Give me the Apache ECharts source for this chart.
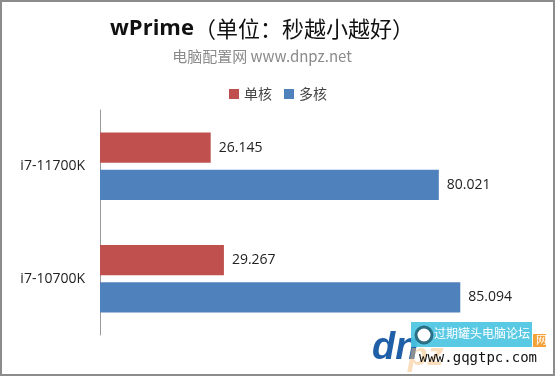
<!DOCTYPE html>
<html>
<head>
<meta charset="utf-8">
<script src="https://cdn.jsdelivr.net/npm/echarts@6/dist/echarts.min.js"></script>
<style>
  html, body { margin: 0; padding: 0; background: #fff; }
  #chart { width: 556px; height: 377px; }
</style>
</head>
<body>
<div id="chart"></div>
<script>
  // wPrime 跑分 (秒，越小越好)
  var cpus = ['i7-11700K', 'i7-10700K'];
  var singleCore = [26.145, 29.267];
  var multiCore = [80.021, 85.094];
  var seriesNames = ['单核', '多核'];

  var font = '"Noto Sans CJK SC", "Open Sans", sans-serif';
  var myChart = echarts.init(document.getElementById('chart'));
  myChart.setOption({
    animation: false,
    color: ['#C0504D', '#4F81BD'],
    title: {
      text: '{a|wPrime}{b|（单位：秒越小越好）}',
      subtext: '电脑配置网 www.dnpz.net',
      left: 257,
      textAlign: 'center',
      top: 13,
      itemGap: 9,
      textStyle: {
        fontSize: 22,
        color: '#111',
        fontFamily: font,
        rich: {
          a: { fontSize: 22, fontWeight: 'bold', color: '#111', fontFamily: '"Open Sans", sans-serif' },
          b: { fontSize: 22, fontWeight: 'normal', color: '#111', fontFamily: font }
        }
      },
      subtextStyle: { fontSize: 15, color: '#8a8a8a', fontFamily: font }
    },
    legend: {
      data: seriesNames,
      top: 82,
      left: 'center',
      itemWidth: 10,
      itemHeight: 10,
      itemGap: 12,
      icon: 'rect',
      textStyle: { fontSize: 14, color: '#444', fontFamily: font }
    },
    grid: {
      left: 100,
      right: 32.6,
      top: 110,
      bottom: 42,
      containLabel: false
    },
    xAxis: {
      type: 'value',
      min: 0,
      max: 100,
      show: false
    },
    yAxis: {
      type: 'category',
      data: cpus,
      inverse: true,
      axisLine: { show: true, lineStyle: { color: '#999', width: 1 } },
      axisTick: { show: false },
      axisLabel: { fontSize: 14, color: '#222', margin: 15, fontFamily: '"Open Sans", sans-serif' }
    },
    series: [{
        name: seriesNames[0],
        type: 'bar',
        data: singleCore,
        barGap: '23%',
        barCategoryGap: '40%',
        label: { show: true, position: 'right', distance: 8, fontSize: 14, color: '#222', fontFamily: '"Open Sans", sans-serif' }
      },
      {
        name: seriesNames[1],
        type: 'bar',
        data: multiCore,
        barGap: '23%',
        barCategoryGap: '40%',
        label: { show: true, position: 'right', distance: 8, fontSize: 14, color: '#222', fontFamily: '"Open Sans", sans-serif' }
      }
    ],
    graphic: [
      // 外框
      { type: 'rect', shape: { x: 1, y: 1, width: 553, height: 374 }, style: { fill: 'none', stroke: '#8c8c8c', lineWidth: 2 }, z: 100 },
      // 右下角水印
      { type: 'text', left: 372, top: 330, style: { text: 'dn', fontSize: 38, fontWeight: 'bold', fontStyle: 'italic', fill: '#1f5fa8', fontFamily: 'Arial, sans-serif' }, z: 90 },
      { type: 'text', left: 408, top: 340, style: { text: 'pz', fontSize: 32, fontWeight: 'bold', fontStyle: 'italic', fill: 'rgba(245,190,120,0.5)', fontFamily: 'Arial, sans-serif' }, z: 90 },
      { type: 'rect', shape: { x: 411, y: 322, width: 121, height: 25 }, style: { fill: 'rgba(72,196,225,0.9)' }, z: 91 },
      { type: 'circle', shape: { cx: 424, cy: 335, r: 8 }, style: { fill: '#fff', stroke: '#2a6f86', lineWidth: 3 }, z: 92 },
      { type: 'text', left: 434, top: 327, style: { text: '过期罐头电脑论坛', fontSize: 12, fill: '#fff', fontFamily: font }, z: 92 },
      { type: 'rect', shape: { x: 533, y: 334, width: 13, height: 13 }, style: { fill: '#f5a23a' }, z: 91 },
      { type: 'text', left: 536, top: 334, style: { text: '网', fontSize: 11, fill: '#fff', fontFamily: font }, z: 92 },
      { type: 'text', left: 419, top: 351, style: { text: 'www.gqgtpc.com', fontSize: 14, fill: '#111', fontFamily: '"DejaVu Sans Mono", monospace' }, z: 92 }
    ]
  });
</script>
</body>
</html>
